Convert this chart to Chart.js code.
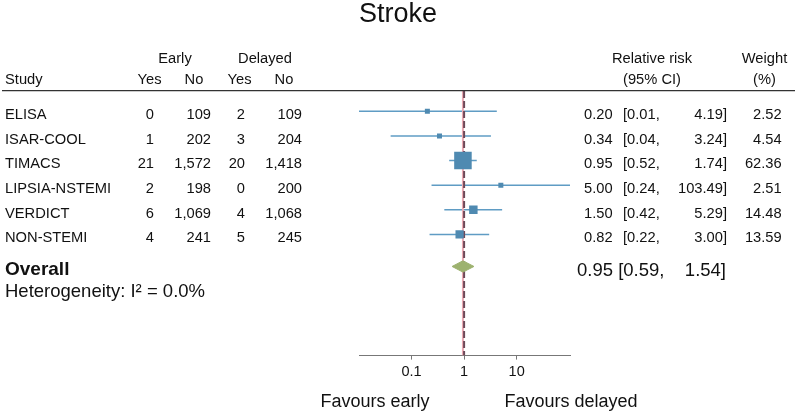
<!DOCTYPE html>
<html lang="en">
<head>
  <meta charset="UTF-8">
  <title>Stroke - forest plot</title>
  <script src="https://cdn.jsdelivr.net/npm/chart.js"></script>
  <style>
    html, body { margin: 0; padding: 0; background: #fff; }
    canvas { display: block; }
  </style>
</head>
<body>
  <canvas id="forest" width="797" height="414"></canvas>

  <script>
    // Study data
    const studies = ['ELISA', 'ISAR-COOL', 'TIMACS', 'LIPSIA-NSTEMI', 'VERDICT', 'NON-STEMI'];
    const earlyYes = [0, 1, 21, 2, 6, 4];
    const earlyNo = [109, 202, 1572, 198, 1069, 241];
    const delayedYes = [2, 3, 20, 0, 4, 5];
    const delayedNo = [109, 204, 1418, 200, 1068, 245];
    const relRisk = [0.20, 0.34, 0.95, 5.00, 1.50, 0.82];
    const ciLow = [0.01, 0.04, 0.52, 0.24, 0.42, 0.22];
    const ciHigh = [4.19, 3.24, 1.74, 103.49, 5.29, 3.00];
    const weights = [2.52, 4.54, 62.36, 2.51, 14.48, 13.59];

    // Pooled estimate
    const overallRR = [0.95];
    const overallCI = [0.59, 1.54];
    const heterogeneity = ['Heterogeneity: I\u00b2 = 0.0%'];

    const xTicks = [0.1, 1, 10];
    const xLabels = ['0.1', '1', '10'];

    const FONT = "'Liberation Sans', Arial, Helvetica, sans-serif";
    const overallRow = 7.3;
    const fmt = n => n.toLocaleString('en-US');

    // row index for each study (1..n)
    const rows = studies.map((s, i) => i + 1);

    // CI lines, one small dataset per study
    const ciSets = studies.map((s, i) => ({
      type: 'line',
      data: [{ x: ciLow[i], y: rows[i] }, { x: ciHigh[i], y: rows[i] }],
      borderColor: '#5f9cc4',
      borderWidth: 1.4,
      pointRadius: 0,
      showLine: true,
      order: 4,
    }));

    // box side grows with the weight (area ~ weight), with a minimum size
    const boxRadius = weights.map(w => Math.max(5, 2.22 * Math.sqrt(w)) / (2 * Math.SQRT1_2));

    const boxes = {
      type: 'scatter',
      data: relRisk.map((r, i) => ({ x: r, y: rows[i] })),
      pointStyle: 'rect',
      pointRadius: boxRadius,
      backgroundColor: '#4f8ab1',
      borderColor: '#4f8ab1',
      borderWidth: 0,
      order: 0,
    };

    const diamond = {
      type: 'line',
      data: [
        { x: overallCI[0], y: overallRow },
        { x: overallRR[0], y: overallRow - 0.23 },
        { x: overallCI[1], y: overallRow },
        { x: overallRR[0], y: overallRow + 0.23 },
        { x: overallCI[0], y: overallRow },
      ],
      showLine: true,
      fill: 'shape',
      backgroundColor: '#9db26f',
      borderColor: '#9db26f',
      borderWidth: 1,
      pointRadius: 0,
      order: 1,
    };

    const overallLine = {
      type: 'line',
      data: [{ x: overallRR[0], y: 0.175 }, { x: overallRR[0], y: 10.92 }],
      showLine: true,
      borderColor: '#eaa9b2',
      borderWidth: 2,
      pointRadius: 0,
      order: 3,
    };

    const nullLine = {
      type: 'line',
      data: [{ x: 1, y: 0.175 }, { x: 1, y: 10.92 }],
      showLine: true,
      borderColor: '#6d4858',
      borderWidth: 2,
      borderDash: [7, 3],
      pointRadius: 0,
      order: 2,
    };

    // Table text around the plot
    const tableText = {
      id: 'tableText',
      afterDraw(chart) {
        const ctx = chart.ctx;
        const y = chart.scales.y;
        ctx.save();
        ctx.fillStyle = '#111';

        // title
        ctx.font = '27px ' + FONT;
        ctx.textAlign = 'center';
        ctx.fillText('Stroke', 398, 21.5);

        // headers
        ctx.font = '14.7px ' + FONT;
        ctx.textAlign = 'center';
        ctx.fillText('Early', 175, 63);
        ctx.fillText('Delayed', 265, 63);
        ctx.fillText('Relative risk', 652, 63);
        ctx.fillText('Weight', 764.5, 63);
        ctx.fillText('Yes', 149.5, 84);
        ctx.fillText('No', 194, 84);
        ctx.fillText('Yes', 239.5, 84);
        ctx.fillText('No', 284, 84);
        ctx.fillText('(95% CI)', 652, 84);
        ctx.fillText('(%)', 764.5, 84);
        ctx.textAlign = 'left';
        ctx.fillText('Study', 5, 84);

        // header rule
        ctx.strokeStyle = '#333';
        ctx.lineWidth = 1.3;
        ctx.beginPath();
        ctx.moveTo(2, 90.7);
        ctx.lineTo(795, 90.7);
        ctx.stroke();

        // study rows
        studies.forEach((s, i) => {
          const by = y.getPixelForValue(rows[i]) + 7.8;
          ctx.textAlign = 'left';
          ctx.fillText(s, 5, by);
          ctx.fillText('[' + ciLow[i].toFixed(2) + ',', 623, by);
          ctx.textAlign = 'right';
          ctx.fillText(String(earlyYes[i]), 154, by);
          ctx.fillText(fmt(earlyNo[i]), 211, by);
          ctx.fillText(String(delayedYes[i]), 245, by);
          ctx.fillText(fmt(delayedNo[i]), 302, by);
          ctx.fillText(relRisk[i].toFixed(2), 612.7, by);
          ctx.fillText(ciHigh[i].toFixed(2) + ']', 727, by);
          ctx.fillText(weights[i].toFixed(2), 781.7, by);
        });

        // overall row
        const oy = y.getPixelForValue(overallRow) + 8.5;
        ctx.font = 'bold 19px ' + FONT;
        ctx.textAlign = 'left';
        ctx.fillText('Overall', 5, oy);
        ctx.font = '18.5px ' + FONT;
        ctx.fillText(overallRR[0].toFixed(2) + ' [' + overallCI[0].toFixed(2) + ',', 577, oy + 1.5);
        ctx.textAlign = 'right';
        ctx.fillText(overallCI[1].toFixed(2) + ']', 726, oy + 1.5);
        ctx.textAlign = 'left';
        ctx.fillText(heterogeneity[0], 5, 296.5);

        // favours labels
        ctx.font = '18px ' + FONT;
        ctx.textAlign = 'center';
        ctx.fillText('Favours early', 375, 406.5);
        ctx.fillText('Favours delayed', 571, 406.5);
        ctx.restore();
      }
    };

    new Chart(document.getElementById('forest'), {
      type: 'scatter',
      data: { datasets: [boxes, diamond, nullLine, overallLine, ...ciSets] },
      options: {
        responsive: false,
        animation: false,
        layout: { padding: { left: 359, right: 227, top: 91, bottom: 29 } },
        plugins: {
          legend: { display: false },
          tooltip: { enabled: false },
        },
        scales: {
          x: {
            type: 'logarithmic',
            min: 0.01,
            max: 103.49,
            afterBuildTicks: scale => { scale.ticks = xTicks.map(v => ({ value: v })); },
            ticks: {
              color: '#111',
              font: { family: FONT, size: 14.5 },
              padding: 4,
              maxRotation: 0,
              autoSkip: false,
              callback: v => xLabels[xTicks.indexOf(v)],
            },
            grid: { drawOnChartArea: false, drawTicks: true, tickLength: 4, color: '#777' },
            border: { display: true, color: '#777', width: 1 },
          },
          y: {
            type: 'linear',
            display: false,
            reverse: true,
            min: 0.175,
            max: 10.92,
          },
        },
      },
      plugins: [tableText],
    });
  </script>
</body>
</html>
